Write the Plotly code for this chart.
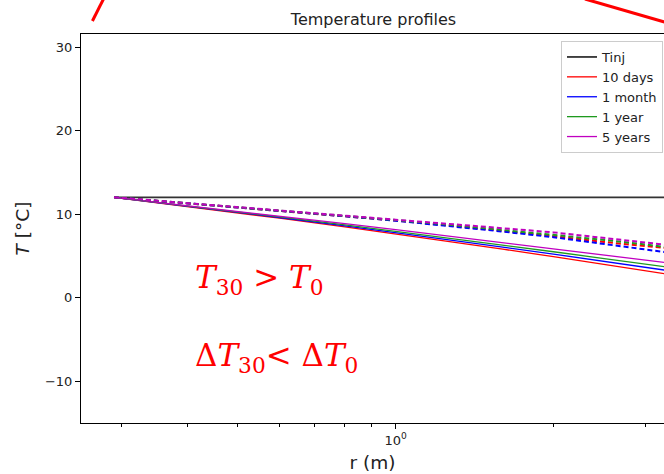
import plotly.graph_objects as go

# radial distance (m)
r = [0.29, 0.35, 0.45, 0.6, 0.8, 1.0, 1.3, 1.6, 2.0, 2.5, 3.0, 3.3]

T_inj = [12, 12, 12, 12, 12, 12, 12, 12, 12, 12, 12, 12]

# solid profiles
T_10d = [12, 11.37, 10.51, 9.50, 8.45, 7.61, 6.60, 5.79, 4.89, 3.97, 3.21, 2.80]
T_1m = [12, 11.39, 10.56, 9.58, 8.57, 7.78, 6.82, 6.04, 5.20, 4.33, 3.62, 3.24]
T_1y = [12, 11.41, 10.60, 9.66, 8.70, 7.93, 7.02, 6.29, 5.48, 4.67, 3.99, 3.64]
T_5y = [12, 11.43, 10.65, 9.75, 8.84, 8.12, 7.27, 6.59, 5.85, 5.10, 4.49, 4.16]

# dashed profiles
Td_10d = [12, 11.59, 11.04, 10.40, 9.74, 9.22, 8.55, 7.98, 7.35, 6.65, 6.15, 5.90]
Td_1m = [12, 11.59, 11.04, 10.40, 9.73, 9.20, 8.50, 7.90, 7.22, 6.40, 5.80, 5.40]
Td_1y = [12, 11.60, 11.05, 10.42, 9.78, 9.28, 8.65, 8.12, 7.55, 6.90, 6.35, 6.00]
Td_5y = [12, 11.60, 11.06, 10.44, 9.82, 9.34, 8.77, 8.30, 7.80, 7.15, 6.65, 6.30]

labels = ["10 days", "1 month", "1 year", "5 years"]
colors = ["#ff0000", "#0000ff", "#1f9a1f", "#c000c0"]
solid = [T_10d, T_1m, T_1y, T_5y]
dashed = [Td_10d, Td_1m, Td_1y, Td_5y]

x_ticks = [1]
x_ticktext = ["10<sup>0</sup>"]
x_minor = [0.3, 0.4, 0.5, 0.6, 0.7, 0.8, 0.9, 2, 3]
y_ticks = [-10, 0, 10, 20, 30]

fig = go.Figure()
fig.add_trace(go.Scatter(x=r, y=T_inj, mode="lines", name="Tinj",
                         line=dict(color="#333333", width=1.8)))
for lab, col, ys in zip(labels, colors, solid):
    fig.add_trace(go.Scatter(x=r, y=ys, mode="lines", name=lab,
                             line=dict(color=col, width=1.3)))
for lab, col, ys in zip(labels, colors, dashed):
    fig.add_trace(go.Scatter(x=r, y=ys, mode="lines", name=lab + " (dashed)",
                             showlegend=False,
                             line=dict(color=col, width=2, dash="5px,3px")))

W, H = 664, 474
L, R, T, B = 81, 0, 34, 51
pw, ph = W - L - R, H - T - B


def px(x):
    return (x - L) / pw


def py(y):
    return (H - B - y) / ph


fig.update_layout(
    width=W, height=H,
    margin=dict(l=L, r=R, t=T, b=B, autoexpand=False),
    paper_bgcolor="white", plot_bgcolor="white",
    font=dict(family="DejaVu Sans", size=13, color="#222222"),
    title=dict(text="Temperature profiles", x=px(373.5), xanchor="center",
               xref="paper", y=1 - 19 / H, yanchor="middle",
               font=dict(size=16, color="#222222")),
    showlegend=True,
    legend=dict(x=px(663), xanchor="right", y=py(41), yanchor="top",
                bgcolor="rgba(255,255,255,0.8)", bordercolor="#cccccc",
                borderwidth=1, font=dict(size=13), itemwidth=30,
                tracegroupgap=0),
    xaxis=dict(type="log", range=[-0.6006, 0.5120],
               showline=True, linecolor="black", linewidth=1, mirror=True,
               showgrid=False, zeroline=False,
               tickvals=x_ticks, ticktext=x_ticktext,
               ticks="outside", ticklen=5, tickwidth=1, tickcolor="black",
               minor=dict(tickvals=x_minor, ticks="outside", ticklen=3,
                          tickwidth=0.8, tickcolor="black", showgrid=False),
               title=dict(text="r (m)", font=dict(size=18.5), standoff=9)),
    yaxis=dict(range=[-15.03, 31.56],
               showline=True, linecolor="black", linewidth=1, mirror=False,
               showgrid=False, zeroline=False,
               tickvals=y_ticks,
               ticks="outside", ticklen=5, tickwidth=1, tickcolor="black",
               title=dict(text="<i>T</i> [°C]", font=dict(size=18.5), standoff=10)),
)

# red marks outside the axes (cropped arrows)
fig.add_shape(type="line", xref="paper", yref="paper",
              x0=px(92.4), y0=py(21), x1=px(104), y1=py(-2),
              line=dict(color="red", width=3))
fig.add_shape(type="line", xref="paper", yref="paper",
              x0=px(585), y0=py(-1), x1=px(668), y1=py(23),
              line=dict(color="red", width=3))

fig.add_annotation(xref="paper", yref="paper", x=px(193), y=py(279),
                   xanchor="left", yanchor="middle", showarrow=False,
                   text="<i>T</i><sub>30</sub> &gt; <i>T</i><sub>0</sub>",
                   font=dict(family="DejaVu Serif", size=31, color="red"))
fig.add_annotation(xref="paper", yref="paper", x=px(193), y=py(357),
                   xanchor="left", yanchor="middle", showarrow=False,
                   text="Δ<i>T</i><sub>30</sub>&lt; Δ<i>T</i><sub>0</sub>",
                   font=dict(family="DejaVu Serif", size=31, color="red"))

fig.write_html(
    "out.html",
    config={"displayModeBar": False},
    post_script="document.body.style.margin='0';document.body.style.overflow='hidden';",
)
